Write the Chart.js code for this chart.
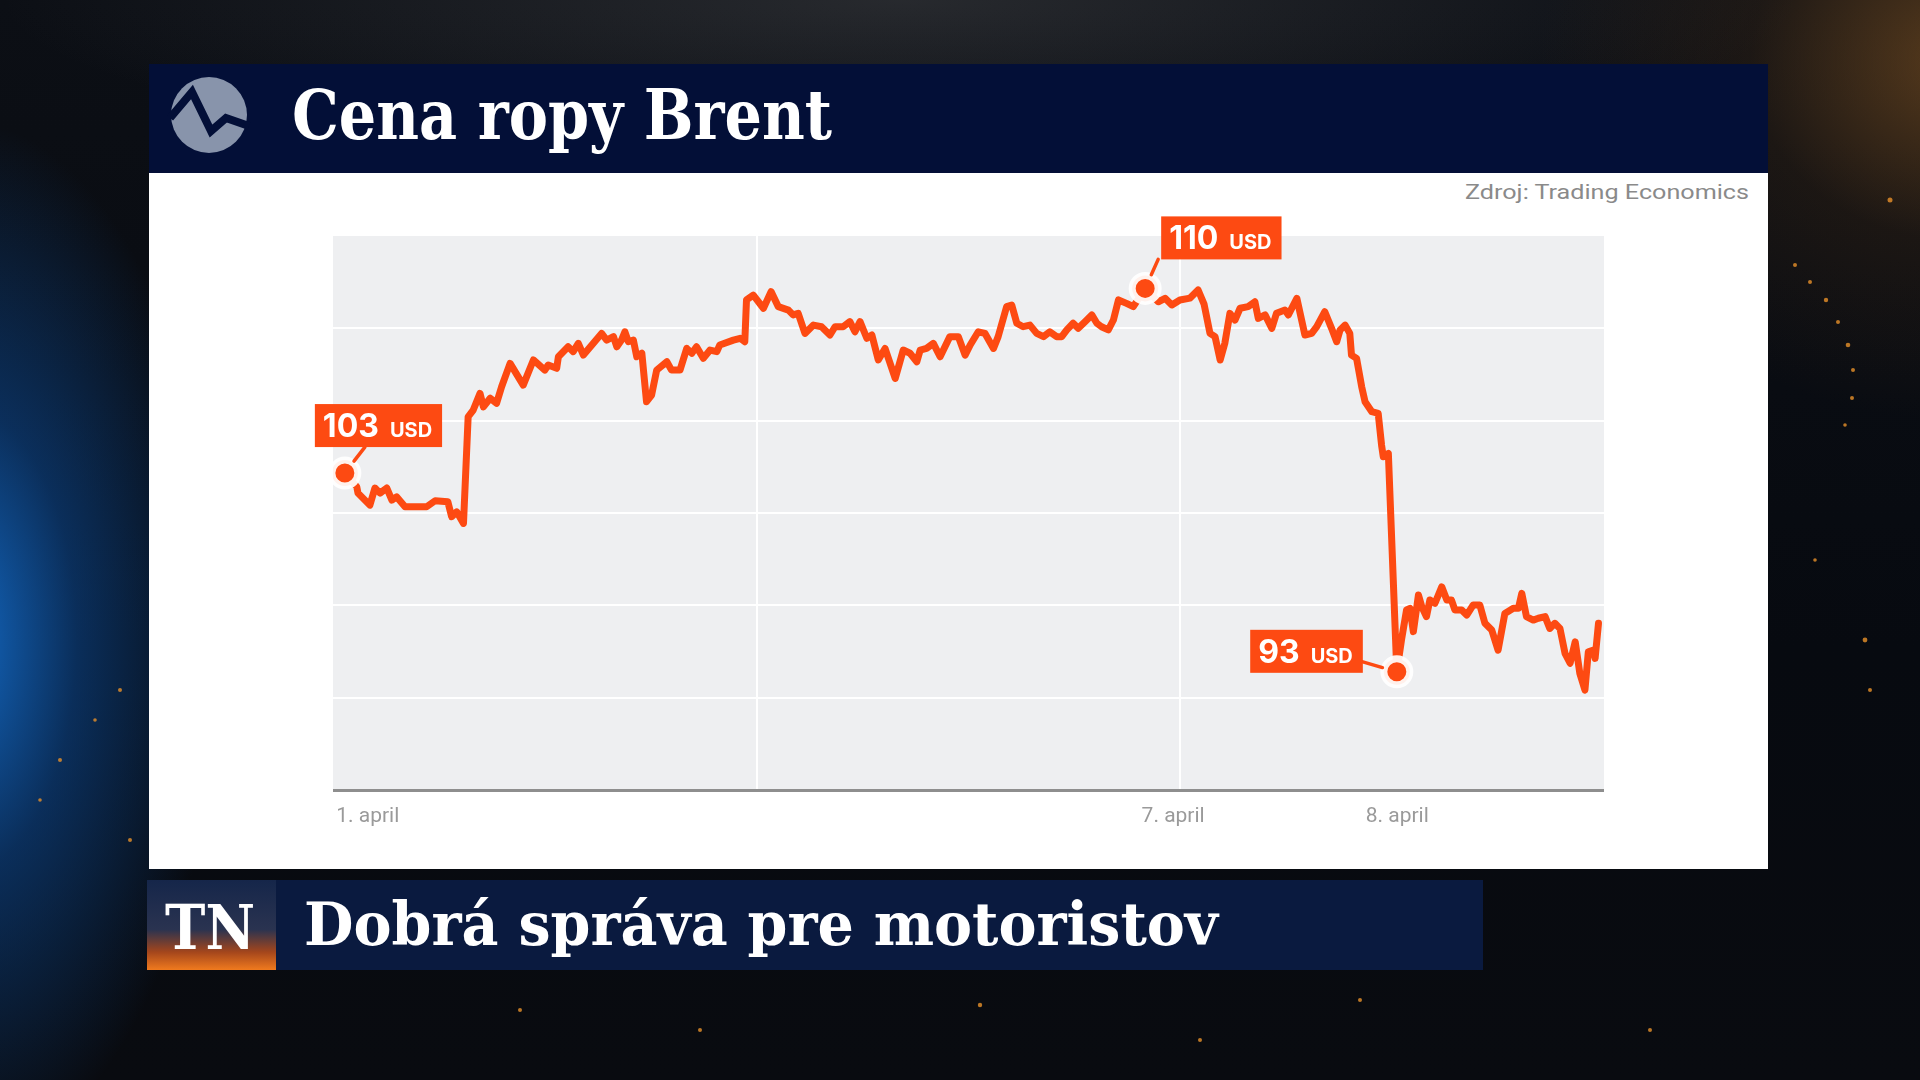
<!DOCTYPE html>
<html>
<head>
<meta charset="utf-8">
<script src="https://cdn.jsdelivr.net/npm/chart.js@4.4.1/dist/chart.umd.min.js"></script>
<style>
html,body{margin:0;padding:0;width:1920px;height:1080px;overflow:hidden;}
body{position:relative;
background:
 radial-gradient(ellipse 260px 520px at -40px 640px, rgba(20,110,205,0.95) 0%, rgba(12,70,140,0.6) 45%, rgba(8,30,60,0) 100%),
 radial-gradient(ellipse 420px 360px at 1960px 60px, rgba(150,95,35,0.55) 0%, rgba(80,50,20,0.25) 50%, rgba(0,0,0,0) 100%),
 radial-gradient(ellipse 900px 160px at 900px 0px, rgba(120,120,120,0.25) 0%, rgba(0,0,0,0) 100%),
 linear-gradient(180deg,#0c0f15 0%,#070a10 60%,#090b10 100%);}
#bg,#ov{position:absolute;left:0;top:0;}
#ov{pointer-events:none;}
#chartWrap{position:absolute;left:333px;top:236px;width:1271px;height:604px;}
</style>
</head>
<body>
<svg id="bg" width="1920" height="1080" xmlns="http://www.w3.org/2000/svg">
  <defs>
    <linearGradient id="tnGrad" x1="0" y1="0" x2="0" y2="1">
      <stop offset="0" stop-color="#15264a"/>
      <stop offset="0.55" stop-color="#2a3350"/>
      <stop offset="0.8" stop-color="#a4461c"/>
      <stop offset="1" stop-color="#f07a1e"/>
    </linearGradient>
  </defs>
  <g fill="#e8912a" opacity="0.8">
    <circle cx="1795" cy="265" r="2"/><circle cx="1810" cy="282" r="2"/><circle cx="1826" cy="300" r="2.2"/>
    <circle cx="1838" cy="322" r="2"/><circle cx="1848" cy="345" r="2.3"/><circle cx="1853" cy="370" r="2"/>
    <circle cx="1852" cy="398" r="2"/><circle cx="1845" cy="425" r="1.8"/><circle cx="1890" cy="200" r="2.5"/>
    <circle cx="1865" cy="640" r="2.4"/><circle cx="1870" cy="690" r="2"/><circle cx="1815" cy="560" r="1.8"/>
    <circle cx="60" cy="760" r="2"/><circle cx="95" cy="720" r="1.8"/><circle cx="120" cy="690" r="2"/>
    <circle cx="40" cy="800" r="1.8"/><circle cx="130" cy="840" r="2"/>
    <circle cx="520" cy="1010" r="2"/><circle cx="700" cy="1030" r="2"/><circle cx="980" cy="1005" r="2.2"/>
    <circle cx="1200" cy="1040" r="2"/><circle cx="1360" cy="1000" r="2"/><circle cx="1650" cy="1030" r="2"/>
  </g>
  <rect x="149" y="64" width="1619" height="109" fill="#030f37"/>
  <circle cx="209" cy="115" r="38" fill="#8894ab"/>
  <path d="M170,118 L192,92 L211,131 L226,118 L249,126" fill="none" stroke="#030f37" stroke-width="8" stroke-linejoin="miter"/>
  <text x="292" y="139" textLength="540" lengthAdjust="spacingAndGlyphs" font-family="DejaVu Serif" font-weight="bold" font-size="70" fill="#ffffff">Cena ropy Brent</text>
  <rect x="149" y="173" width="1619" height="696" fill="#ffffff"/>
  <text x="1749" y="199" text-anchor="end" textLength="284" lengthAdjust="spacingAndGlyphs" font-family="Roboto" font-size="20" fill="#8a8a8a">Zdroj: Trading Economics</text>
  <rect x="147" y="880" width="1336" height="90" fill="#0a1a3f"/>
  <rect x="147" y="880" width="129" height="90" fill="url(#tnGrad)"/>
  <text x="165" y="949" textLength="90" lengthAdjust="spacingAndGlyphs" font-family="DejaVu Serif" font-weight="bold" font-size="62" fill="#ffffff">TN</text>
  <text x="304" y="945" textLength="914" lengthAdjust="spacingAndGlyphs" font-family="DejaVu Serif" font-weight="bold" font-size="60" fill="#ffffff">Dobrá správa pre motoristov</text>
</svg>
<div id="chartWrap"><canvas id="c" width="1271" height="604"></canvas></div>
<svg id="ov" width="1920" height="1080" xmlns="http://www.w3.org/2000/svg"></svg>
<script>
// ---- DATA ----
const times = [2.8,5.6,5.9,8.7,9.9,11.1,12.7,13.9,15.0,17.0,22.1,24.1,27.1,28.0,29.2,30.8,31.9,33.1,34.7,35.5,
37.1,38.6,39.8,41.8,44.9,47.3,50.0,50.8,52.8,53.2,55.5,56.7,57.9,59.1,61.1,63.4,64.6,66.2,67.0,68.1,
68.9,69.7,70.9,71.7,72.9,74.0,75.2,76.4,78.8,79.9,81.9,83.5,84.7,85.8,87.4,89.0,90.6,91.3,94.5,96.1,
97.2,97.6,99.2,101.6,103.4,105.1,107.5,108.6,109.8,111.4,113.4,115.3,117.3,118.5,120.4,122.0,123.2,124.4,126.0,127.2,
128.7,130.3,132.7,134.6,136.2,137.8,138.6,140.1,141.7,143.3,145.6,147.6,149.2,150.4,152.3,153.9,155.9,157.0,159.0,160.2,
161.4,162.9,164.5,166.1,167.7,169.2,170.8,172.0,173.2,174.7,175.9,177.5,179.1,180.3,181.4,183.0,184.2,185.4,187.3,188.9,
191.7,194.8,196.4,198.0,199.9,202.3,204.2,205.6,207.0,208.2,209.4,210.5,211.7,212.9,214.1,216.0,217.6,218.4,220.0,221.6,
222.7,224.7,225.5,227.5,229.4,231.0,232.2,234.1,235.7,236.9,237.7,238.9,240.0,240.4,241.6,242.8,243.6,245.2,246.7,247.5,
247.9,249.1,251.1,252.2,253.4,254.2,255.0,256.2,257.0,258.1,258.9,260.1,261.7,262.9,264.0,264.8,266.4,267.6,269.1,270.7,
271.9,273.5,275.0,276.6,278.6,279.8,280.6,281.7,283.3,284.5,286.1,287.2,288.4,289.6,290.8,292.0,293.2,294.3,295.5,296.3,
297.5,297.9,298.7];
const prices = [101.73,101.14,100.86,100.34,101.08,100.86,101.08,100.56,100.70,100.27,100.27,100.53,100.49,99.84,100.05,99.55,104.17,104.46,105.18,104.60,
104.97,104.75,105.47,106.48,105.54,106.63,106.19,106.41,106.27,106.77,107.20,106.99,107.35,106.84,107.28,107.78,107.49,107.64,107.20,107.49,
107.85,107.42,107.49,106.77,106.92,104.82,105.11,106.19,106.55,106.19,106.19,107.13,106.92,107.20,106.70,107.06,106.99,107.28,107.49,107.57,
107.42,109.23,109.44,108.87,109.59,108.94,108.79,108.58,108.65,107.78,108.14,108.07,107.71,108.07,108.07,108.29,107.85,108.29,107.57,107.71,
106.63,107.13,105.83,107.06,106.92,106.55,107.06,107.13,107.35,106.77,107.64,107.64,106.84,107.28,107.85,107.78,107.13,107.64,108.94,109.01,
108.22,108.07,108.14,107.78,107.64,107.85,107.64,107.64,107.93,108.22,108.00,108.29,108.58,108.22,108.07,107.93,108.36,109.23,109.08,108.94,
109.73,109.15,109.30,109.01,109.23,109.31,109.66,109.05,107.78,107.64,106.63,107.35,108.65,108.36,108.87,108.94,109.15,108.43,108.58,108.00,
108.65,108.79,108.58,109.30,107.71,107.78,108.07,108.72,108.00,107.42,107.93,108.14,107.78,106.84,106.70,105.47,104.82,104.39,104.32,102.94,
102.44,102.58,93.12,94.50,95.80,95.87,94.86,96.45,95.94,95.51,96.23,96.09,96.80,96.23,96.23,95.80,95.80,95.58,96.01,96.01,
95.22,94.93,94.06,95.65,95.87,95.87,96.52,95.51,95.36,95.44,95.51,95.00,95.22,95.00,93.92,93.49,94.42,93.05,92.33,93.99,
94.06,93.70,95.22];
const xLabelTimes = [8.2, 198.3, 251.2];
const xLabelTexts = ['1. april', '7. april', '8. april'];
const xGridTimes = [100, 200];
const xMin = 0, xMax = 300;
const yMin = 88, yMax = 112, yStep = 4;
const calloutTimes = [2.8, 191.7, 251.1];
const calloutTexts = ['103', '110', '93'];
const calloutUnit = 'USD';

// ---- STYLE / LAYOUT ----
const ORANGE = '#fd4a12';
const chartLeft = 333, chartTop = 236;
const calloutLayout = [
  {side:'left',  dx:-30, dy:-26, from:[50, 0]},
  {side:'left',  dx: 16, dy:-29, from:[-3, 0]},
  {side:'right', dx:-34, dy:  1, from:[0, -11]}
];

function idxOf(t){ let b=0; for(let i=0;i<times.length;i++){ if(Math.abs(times[i]-t)<Math.abs(times[b]-t)) b=i; } return b; }

const lineData = times.map((t,i)=>({x:t, y:prices[i]}));
const dotData = calloutTimes.map(t=>{ const i=idxOf(t); return {x:times[i], y:prices[i]}; });

const plotBg = {
  id:'plotBg',
  beforeDraw(chart){
    const {ctx, chartArea:a} = chart;
    ctx.save(); ctx.fillStyle='#eeeff1';
    ctx.fillRect(a.left, a.top, a.right-a.left, a.bottom-a.top);
    ctx.restore();
  }
};

const tickList = [...xLabelTimes.map((v,i)=>({value:v, label:xLabelTexts[i]})),
                  ...xGridTimes.map(v=>({value:v, label:''}))].sort((a,b)=>a.value-b.value);

Chart.defaults.font.family = 'Roboto';
const chart = new Chart(document.getElementById('c'), {
  data:{
    datasets:[
      {type:'scatter', data:dotData, order:0, clip:false,
       pointRadius:13, pointBorderWidth:7, pointBackgroundColor:ORANGE, pointBorderColor:'rgba(255,255,255,0.92)'},
      {type:'line', data:lineData, order:1, borderColor:ORANGE, borderWidth:7, pointRadius:0,
       tension:0, borderJoinStyle:'round', borderCapStyle:'round', fill:false}
    ]
  },
  options:{
    responsive:false, animation:false, devicePixelRatio:1, events:[],
    layout:{padding:0, autoPadding:false},
    plugins:{legend:{display:false}, tooltip:{enabled:false}},
    scales:{
      x:{type:'linear', min:xMin, max:xMax,
         afterBuildTicks(axis){ axis.ticks = tickList.map(t=>({value:t.value})); },
         afterFit(s){ s.height = 50; s.paddingLeft = 0; s.paddingRight = 0; },
         ticks:{autoSkip:false, maxRotation:0, padding:14, color:'#9a9a9a', font:{size:21},
                callback(v,i){ return tickList[i] ? tickList[i].label : ''; }},
         grid:{drawTicks:false, lineWidth:2,
               color(c){ return (c.tick && xGridTimes.includes(c.tick.value)) ? '#ffffff' : 'rgba(0,0,0,0)'; }},
         border:{display:true, color:'#8e8e8e', width:3}},
      y:{type:'linear', min:yMin, max:yMax,
         ticks:{display:false, stepSize:yStep},
         afterFit(s){ s.width = 0; s.paddingTop = 0; s.paddingBottom = 0; },
         grid:{drawTicks:false, lineWidth:2,
               color(c){ const v=c.tick&&c.tick.value; return (v>yMin && v<yMax) ? '#ffffff' : 'rgba(0,0,0,0)'; }},
         border:{display:false}}
    }
  },
  plugins:[plotBg]
});

// ---- callouts (positioned from the chart's own scales) ----
const NS='http://www.w3.org/2000/svg';
const ov=document.getElementById('ov');
function el(n,attrs,txt){ const e=document.createElementNS(NS,n); for(const k in attrs) e.setAttribute(k,attrs[k]); if(txt!=null) e.textContent=txt; ov.appendChild(e); return e; }
dotData.forEach((d,i)=>{
  const px = chartLeft + chart.scales.x.getPixelForValue(d.x);
  const py = chartTop + chart.scales.y.getPixelForValue(d.y);
  const L = calloutLayout[i];
  const padL=8, gap=11, padR=10, h=43;
  const num = el('text',{ 'font-family':'Inter', 'font-weight':'700', 'font-size':'32', fill:'#fff', x:0, y:0}, calloutTexts[i]);
  const unit = el('text',{ 'font-family':'Inter', 'font-weight':'700', 'font-size':'20', fill:'#fff', x:0, y:0}, calloutUnit);
  const nw = num.getComputedTextLength(), uw = unit.getComputedTextLength();
  const w = padL+nw+gap+uw+padR;
  const bottom = py + L.dy;
  const left = L.side==='left' ? px + L.dx : px + L.dx - w;
  const rect = el('rect',{x:left, y:bottom-h, width:w, height:h, fill:ORANGE});
  ov.insertBefore(rect, num);
  num.setAttribute('x', left+padL); num.setAttribute('y', bottom-10);
  unit.setAttribute('x', left+padL+nw+gap); unit.setAttribute('y', bottom-10);
  const fx = (L.side==='left' ? left : left + w) + L.from[0];
  const fy = bottom + L.from[1];
  const dx = px-fx, dy = py-fy, len=Math.hypot(dx,dy);
  const ex = px - dx/len*15, ey = py - dy/len*15;
  const ln = el('line',{x1:fx, y1:fy, x2:ex, y2:ey, stroke:ORANGE, 'stroke-width':3.5, 'stroke-linecap':'round'});
  ov.insertBefore(ln, rect);
});
</script>
</body>
</html>
